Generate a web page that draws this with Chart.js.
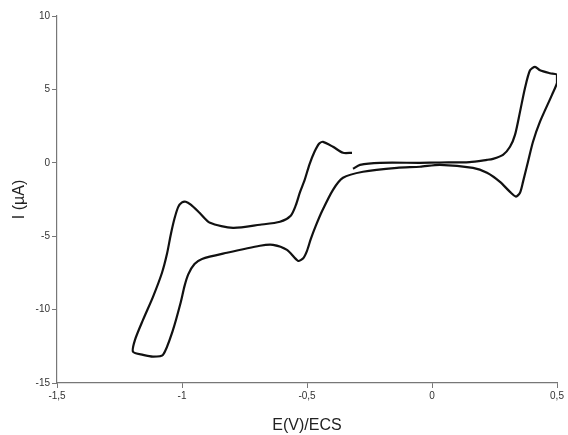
<!DOCTYPE html>
<html>
<head>
<meta charset="utf-8">
<script src="https://cdn.jsdelivr.net/npm/chart.js@4"></script>
<style>
  html, body { margin: 0; padding: 0; background: #fff; }
  #wrap { width: 568px; height: 435px; position: relative; }
</style>
</head>
<body>
<div id="wrap"><canvas id="c" width="568" height="435"></canvas></div>
<script>
// Potential (V vs ECS) and current (µA), in scan order
const potential = [
  -0.316, -0.288, -0.208, -0.048, 0.032, 0.15, 0.22, 0.244, 0.284, 0.312, 0.332, 0.352, 0.372, 0.392, 0.412, 0.432, 0.472, 0.5,
  0.5, 0.48, 0.432, 0.404, 0.384, 0.364, 0.352, 0.336, 0.312, 0.272, 0.22, 0.164, 0.032, -0.048, -0.14, -0.276, -0.356, -0.396, -0.44, -0.465, -0.485, -0.5, -0.515, -0.536, -0.58, -0.636, -0.688, -0.82, -0.92, -0.95, -0.975, -0.99, -1.005, -1.036, -1.076, -1.116, -1.156, -1.196,
  -1.188, -1.156, -1.116, -1.08, -1.06, -1.045, -1.03, -1.015, -1.0, -0.985, -0.965, -0.93, -0.888, -0.796, -0.688, -0.608, -0.565, -0.545, -0.528, -0.51, -0.49, -0.47, -0.452, -0.436, -0.396, -0.356, -0.32
];
const current = [
  -0.41, -0.14, 0.0, 0.0, 0.02, 0.05, 0.2, 0.27, 0.54, 1.09, 1.9, 3.47, 5.1, 6.3, 6.54, 6.3, 6.1, 6.0,
  5.45, 4.63, 2.8, 1.43, 0.07, -1.3, -2.04, -2.3, -1.98, -1.3, -0.68, -0.34, -0.14, -0.27, -0.34, -0.61, -1.02, -1.84, -3.3, -4.3, -5.2, -6.0, -6.5, -6.68, -5.93, -5.59, -5.65, -6.13, -6.55, -6.9, -7.6, -8.4, -9.5, -11.38, -13.08, -13.2, -13.08, -12.87,
  -12.06, -10.7, -9.13, -7.49, -6.2, -4.9, -3.8, -3.0, -2.7, -2.65, -2.85, -3.4, -4.09, -4.43, -4.22, -4.02, -3.6, -2.9, -2.0, -1.2, -0.1, 0.75, 1.3, 1.43, 1.09, 0.68, 0.68
];
const xTicks = [-1.5, -1, -0.5, 0, 0.5];
const yTicks = [-15, -10, -5, 0, 5, 10];
const xTitle = 'E(V)/ECS';
const yTitle = 'I (µA)';

const points = potential.map((x, i) => ({ x: x, y: current[i] }));
const fmt = v => String(v).replace('.', ',');

new Chart(document.getElementById('c'), {
  type: 'scatter',
  data: {
    datasets: [{
      data: points,
      showLine: true,
      borderColor: '#111',
      borderWidth: 2.2,
      pointRadius: 0,
      tension: 0.25,
      fill: false
    }]
  },
  options: {
    responsive: false,
    animation: false,
    layout: { padding: { top: 16, right: 11, left: 0, bottom: 0 } },
    plugins: { legend: { display: false }, tooltip: { enabled: false } },
    scales: {
      x: {
        type: 'linear',
        min: xTicks[0],
        max: xTicks[xTicks.length - 1],
        afterBuildTicks: s => { s.ticks = xTicks.map(v => ({ value: v })); },
        afterFit: s => { s.height = 52; },
        ticks: {
          callback: v => fmt(v),
          font: { family: 'Liberation Sans', size: 10 },
          color: '#333',
          padding: 2,
          maxRotation: 0
        },
        grid: { drawOnChartArea: false, tickLength: 5, color: '#777', lineWidth: 1 },
        border: { color: '#777', width: 1.2 },
        title: {
          display: true,
          text: xTitle,
          font: { family: 'Liberation Sans', size: 16 },
          color: '#222',
          padding: { top: 1.5, bottom: 0 }
        }
      },
      y: {
        type: 'linear',
        min: yTicks[0],
        max: yTicks[yTicks.length - 1],
        afterBuildTicks: s => { s.ticks = yTicks.map(v => ({ value: v })); },
        afterFit: s => { s.width = 57; },
        ticks: {
          callback: v => fmt(v),
          font: { family: 'Liberation Sans', size: 10 },
          color: '#333',
          padding: 2
        },
        grid: { drawOnChartArea: false, tickLength: 5, color: '#777', lineWidth: 1 },
        border: { color: '#777', width: 1.2 },
        title: {
          display: true,
          text: yTitle,
          font: { family: 'Liberation Sans', size: 16 },
          color: '#222',
          padding: { top: 10.4, bottom: 0 }
        }
      }
    }
  }
});
</script>
</body>
</html>
